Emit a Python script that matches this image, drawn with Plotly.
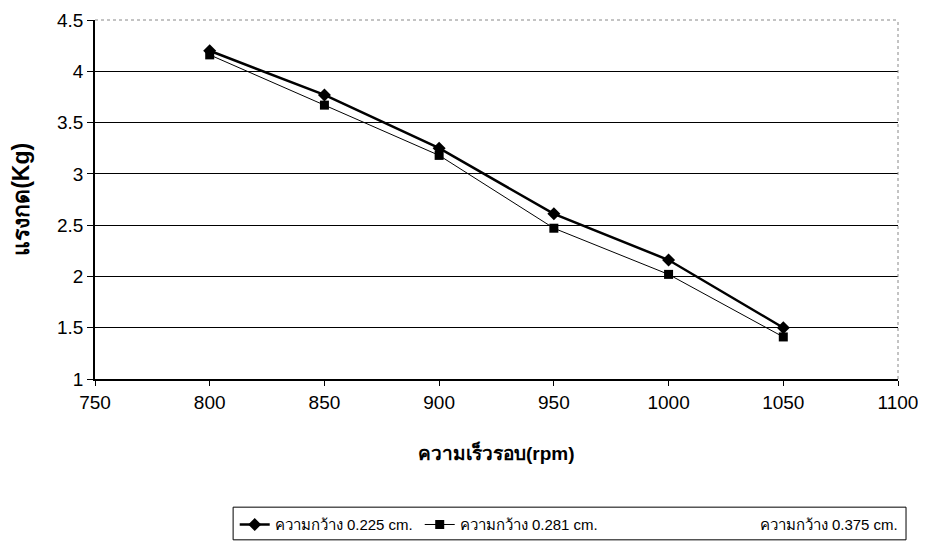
import plotly.graph_objects as go

rpm = [800, 850, 900, 950, 1000, 1050]
force_0225 = [4.20, 3.77, 3.25, 2.61, 2.16, 1.50]
force_0281 = [4.16, 3.67, 3.18, 2.47, 2.02, 1.41]
force_0375 = [None, None, None, None, None, None]

names = ["ความกว้าง 0.225 cm.", "ความกว้าง 0.281 cm.", "ความกว้าง 0.375 cm."]
x_title = "ความเร็วรอบ(rpm)"
y_title = "แรงกด(Kg)"

font_family = "Liberation Sans, Arial, Noto Sans, DejaVu Sans, sans-serif"

fig = go.Figure()
fig.add_trace(go.Scatter(x=rpm, y=force_0225, name=names[0], mode="lines+markers",
                         line=dict(color="black", width=2.5),
                         marker=dict(symbol="diamond", size=10, color="black")))
fig.add_trace(go.Scatter(x=rpm, y=force_0281, name=names[1], mode="lines+markers",
                         line=dict(color="black", width=1),
                         marker=dict(symbol="square", size=9, color="black")))
fig.add_trace(go.Scatter(x=rpm, y=force_0375, name=names[2], mode="lines+markers",
                         legend="legend2",
                         line=dict(color="rgba(0,0,0,0)", width=1),
                         marker=dict(symbol="triangle-up", size=8, color="rgba(0,0,0,0)")))

legend_common = dict(orientation="h", yanchor="top", xanchor="left", borderwidth=0,
                     font=dict(size=15), bgcolor="rgba(0,0,0,0)")

fig.update_layout(
    width=918, height=539,
    margin=dict(l=87, r=28, t=12, b=168, autoexpand=False),
    paper_bgcolor="white", plot_bgcolor="white",
    font=dict(family=font_family, size=17, color="black"),
    showlegend=True,
    legend=dict(x=0.174, y=-0.36, entrywidth=140, entrywidthmode="pixels", **legend_common),
    legend2=dict(x=0.778, y=-0.36, **legend_common),
    xaxis=dict(range=[750, 1100], dtick=50, tick0=750, showgrid=False,
               showline=True, linecolor="black", linewidth=1.5,
               ticks="outside", ticklen=5, tickcolor="black",
               tickfont=dict(size=19),
               mirror=False, zeroline=False, automargin=False),
    yaxis=dict(range=[1, 4.5], dtick=0.5, tick0=1, showgrid=True,
               gridcolor="black", gridwidth=1.2,
               showline=True, linecolor="black", linewidth=1.5,
               ticks="outside", ticklen=6, tickcolor="black",
               tickfont=dict(size=19),
               zeroline=False, automargin=False),
    annotations=[
        dict(text="<b>" + x_title + "</b>", xref="paper", yref="paper",
             x=0.5, y=-0.205, xanchor="center", yanchor="middle",
             showarrow=False, font=dict(size=19)),
        dict(text="<b>" + y_title + "</b>", xref="paper", yref="paper",
             x=-0.093, y=0.5, xanchor="center", yanchor="middle", textangle=-90,
             showarrow=False, font=dict(size=23)),
    ],
)

fig.add_shape(type="line", xref="paper", yref="paper", x0=0, x1=1, y0=1, y1=1,
              line=dict(color="#888", width=1, dash="dot"))
fig.add_shape(type="line", xref="paper", yref="paper", x0=1, x1=1, y0=0, y1=1,
              line=dict(color="#888", width=1, dash="dot"))
fig.add_shape(type="rect", xref="paper", yref="paper", x0=0.172, x1=1.01, y0=-0.357, y1=-0.448,
              line=dict(color="black", width=1))

fig.write_html("out.html")
